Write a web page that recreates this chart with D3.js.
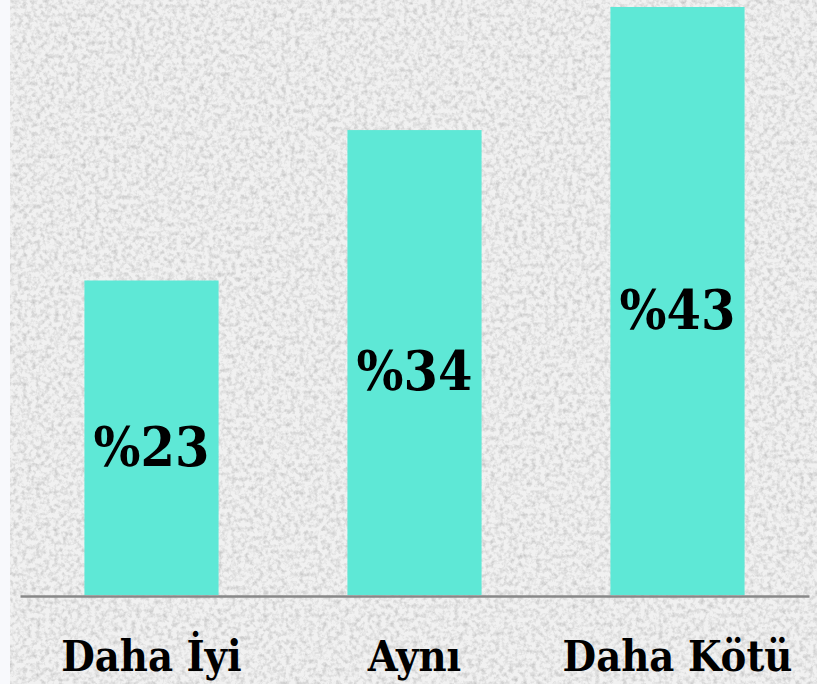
<!DOCTYPE html>
<html>
<head>
<meta charset="utf-8">
<script src="https://cdn.jsdelivr.net/npm/d3@7"></script>
<style>
  body { margin: 0; background: #f8f9fc; }
  svg { display: block; }
</style>
</head>
<body>
<script>
(function() {

    // Chart data
    var categories = ['Daha İyi', 'Aynı', 'Daha Kötü'];
    var values = [23, 34, 43];
    var valueLabels = ['%23', '%34', '%43'];

    var width = 817, height = 684;
    var baseline = 595;

    var svg = d3.select('body').append('svg')
        .attr('width', width)
        .attr('height', height);

    // Granite-like background texture
    var defs = svg.append('defs');
    var filter = defs.append('filter')
        .attr('id', 'granite')
        .attr('x', 0).attr('y', 0).attr('width', '100%').attr('height', '100%');
    filter.append('feTurbulence')
        .attr('type', 'fractalNoise')
        .attr('baseFrequency', 0.22)
        .attr('numOctaves', 3)
        .attr('seed', 11)
        .attr('result', 'noise');
    filter.append('feColorMatrix')
        .attr('in', 'noise')
        .attr('type', 'matrix')
        .attr('values', '0 0 0 0 0  0 0 0 0 0  0 0 0 0 0  0 0 0 -1.6 0.95');

    svg.append('rect')
        .attr('x', 10).attr('y', 0)
        .attr('width', width - 10).attr('height', height)
        .attr('fill', '#f1f1f1');
    svg.append('rect')
        .attr('x', 10).attr('y', 0)
        .attr('width', width - 10).attr('height', height)
        .attr('filter', 'url(#granite)')
        .attr('opacity', 0.22);

    // Scales
    var x = d3.scaleBand()
        .domain(categories)
        .range([20, 809])
        .paddingInner(0.49)
        .paddingOuter(0.245);

    var y = d3.scaleLinear()
        .domain([0, 43])
        .range([baseline, 7]);

    // Bars
    svg.selectAll('.bar')
        .data(values)
      .enter().append('rect')
        .attr('class', 'bar')
        .attr('x', function(d, i) { return x(categories[i]); })
        .attr('y', function(d) { return y(d); })
        .attr('width', x.bandwidth())
        .attr('height', function(d) { return baseline - y(d); })
        .attr('fill', '#5ee8d6');

    // Value labels
    svg.selectAll('.val')
        .data(values)
      .enter().append('text')
        .attr('class', 'val')
        .attr('x', function(d, i) { return x(categories[i]) + x.bandwidth() / 2; })
        .attr('y', function(d) { return y(d / 2) + 8; })
        .attr('dy', '0.36em')
        .attr('text-anchor', 'middle')
        .style('font-family', '"DejaVu Serif Condensed", "DejaVu Serif", serif')
        .style('font-stretch', 'condensed')
        .style('font-weight', 'bold')
        .style('font-size', '55px')
        .attr('fill', '#000')
        .text(function(d, i) { return valueLabels[i]; });

    // X axis
    var xAxis = svg.append('g')
        .attr('transform', 'translate(0,' + (baseline + 1) + ')')
        .call(d3.axisBottom(x).tickSize(0).tickPadding(44));
    xAxis.select('.domain')
        .attr('stroke', '#888')
        .attr('stroke-width', 2.5);
    xAxis.selectAll('text')
        .style('font-family', '"DejaVu Serif Condensed", "DejaVu Serif", serif')
        .style('font-stretch', 'condensed')
        .style('font-weight', 'bold')
        .style('font-size', '43px')
        .attr('fill', '#000');

})();
</script>
</body>
</html>
